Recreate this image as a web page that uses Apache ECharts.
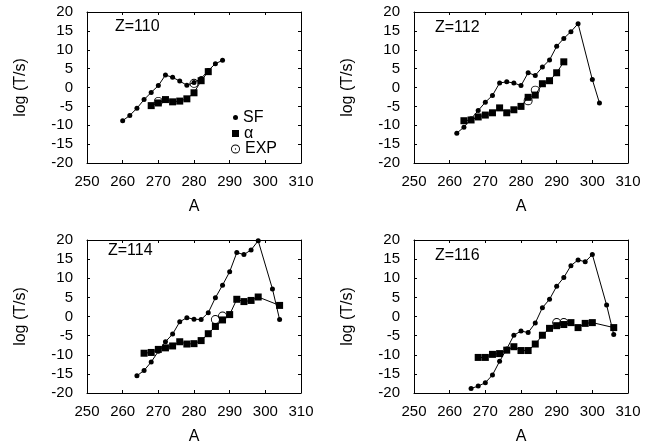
<!DOCTYPE html>
<html>
<head>
<meta charset="utf-8">
<script src="https://cdn.jsdelivr.net/npm/echarts@6/dist/echarts.min.js"></script>
<style>html,body{margin:0;padding:0;background:#fff}#c{width:662px;height:448px}</style>
</head>
<body>
<div id="c"></div>
<script>
// ---- data ----
const xTicks = [250, 260, 270, 280, 290, 300, 310];
const yTicks = [-20, -15, -10, -5, 0, 5, 10, 15, 20];
const panelZ = ['Z=110', 'Z=112', 'Z=114', 'Z=116'];

const sf110A = [260,262,264,266,268,270,272,274,276,278,280,282,284,286,288];
const sf110  = [-8.8,-7.4,-5.5,-3.2,-1.3,0.5,3.3,2.7,1.7,0.6,1.3,2.4,4.5,6.3,7.2];
const al110A = [268,270,272,274,276,278,280,282,284];
const al110  = [-4.8,-4.1,-3.2,-3.8,-3.6,-3.0,-1.4,1.8,4.2];
const ex110A = [270,280];
const ex110  = [-3.7,1.1];

const sf112A = [262,264,266,268,270,272,274,276,278,280,282,284,286,288,290,292,294,296,300,302];
const sf112  = [-12.1,-10.5,-8.3,-6.1,-3.9,-2.1,1.2,1.5,1.2,0.5,3.9,3.2,5.4,7.3,10.9,13.0,14.8,16.9,2.1,-4.1];
const al112A = [264,266,268,270,272,274,276,278,280,282,284,286,288,290,292];
const al112  = [-8.8,-8.6,-7.8,-7.3,-6.7,-5.4,-6.7,-5.9,-5.0,-2.6,-2.0,1.0,1.8,3.9,6.8];
const ex112A = [282,284];
const ex112  = [-3.5,-0.7];

const sf114A = [264,266,268,270,272,274,276,278,280,282,284,286,288,290,292,294,296,298,302,304];
const sf114  = [-15.5,-14.1,-11.9,-9.1,-6.6,-4.6,-1.4,-0.3,-0.7,-0.8,1.0,4.9,8.2,11.7,16.7,16.2,17.4,19.8,7.2,-0.8];
const al114A = [266,268,270,272,274,276,278,280,282,284,286,288,290,292,294,296,298,304];
const al114  = [-9.6,-9.4,-8.6,-8.2,-7.7,-6.6,-7.2,-7.1,-6.3,-4.5,-2.6,-0.9,0.5,4.5,3.9,4.2,5.1,2.9];
const ex114A = [286,288];
const ex114  = [-0.8,0.1];

const sf116A = [266,268,270,272,274,276,278,280,282,284,286,288,290,292,294,296,298,300,304,306];
const sf116  = [-18.8,-18.2,-17.3,-15.3,-11.7,-8.5,-4.9,-3.8,-4.2,-1.7,2.3,4.5,7.9,10.2,13.3,14.8,14.3,16.2,3.0,-4.7];
const al116A = [268,270,272,274,276,278,280,282,284,286,288,290,292,294,296,298,300,306];
const al116  = [-10.7,-10.7,-9.9,-9.7,-8.8,-7.9,-8.9,-8.9,-7.2,-4.9,-3.1,-2.4,-2.1,-1.6,-2.9,-1.8,-1.6,-2.9];
const ex116A = [290,292];
const ex116  = [-1.6,-1.6];

// ---- build ----
const FONT = '"Liberation Sans", Arial, sans-serif';
const EXP_SYMBOL = 'path://M0,10 A10,10 0 1,1 20,10 A10,10 0 1,1 0,10 Z M2,10 A8,8 0 1,0 18,10 A8,8 0 1,0 2,10 Z M8.6,10 A1.4,1.4 0 1,1 11.4,10 A1.4,1.4 0 1,1 8.6,10 Z';
const EXP_RING = 'path://M0,10 A10,10 0 1,1 20,10 A10,10 0 1,1 0,10 Z M2,10 A8,8 0 1,0 18,10 A8,8 0 1,0 2,10 Z';

const panels = [
  {sf:[sf110A,sf110], al:[al110A,al110], ex:[ex110A,ex110]},
  {sf:[sf112A,sf112], al:[al112A,al112], ex:[ex112A,ex112]},
  {sf:[sf114A,sf114], al:[al114A,al114], ex:[ex114A,ex114]},
  {sf:[sf116A,sf116], al:[al116A,al116], ex:[ex116A,ex116]}
];
const zip = (a, b) => a.map((v, i) => [v, b[i]]);

const gridPos = [
  {left: 87, top: 12, width: 214, height: 151},
  {left: 414, top: 12, width: 214, height: 151},
  {left: 87, top: 240, width: 214, height: 153},
  {left: 414, top: 240, width: 214, height: 153}
];
const titlePos = [[115, 19], [435, 20], [108, 243], [435, 248]];

const axisLine = {show: true, onZero: false, lineStyle: {color: '#000', width: 1}};
const axisTick = {show: true, inside: true, length: 3, lineStyle: {color: '#000', width: 1}};
const labelStyle = {color: '#000', fontSize: 15, fontFamily: FONT};

const grid = [], xAxis = [], yAxis = [], series = [], graphic = [];
gridPos.forEach((g, i) => {
  grid.push(Object.assign({containLabel: false}, g));
  const xBase = {type: 'value', min: xTicks[0], max: xTicks[xTicks.length - 1], interval: 10, gridIndex: i,
    axisLine, axisTick, splitLine: {show: false}};
  const yBase = {type: 'value', min: yTicks[0], max: yTicks[yTicks.length - 1], interval: 5, gridIndex: i,
    axisLine, axisTick, splitLine: {show: false}};
  xAxis.push(Object.assign({}, xBase, {position: 'bottom', name: 'A', nameLocation: 'middle', nameGap: 36,
    nameTextStyle: {color: '#000', fontSize: 16, fontFamily: FONT},
    axisLabel: Object.assign({margin: 11}, labelStyle)}));
  xAxis.push(Object.assign({}, xBase, {position: 'top', axisLabel: {show: false}}));
  yAxis.push(Object.assign({}, yBase, {position: 'left', name: 'log (T/s)', nameLocation: 'middle', nameGap: 58,
    nameTextStyle: {color: '#000', fontSize: 16, fontFamily: FONT},
    axisLabel: Object.assign({margin: 14}, labelStyle)}));
  yAxis.push(Object.assign({}, yBase, {position: 'right', axisLabel: {show: false}}));

  const p = panels[i];
  const xi = i * 2, yi = i * 2;
  series.push({name: 'EXP', type: 'line', xAxisIndex: xi, yAxisIndex: yi, data: zip(p.ex[0], p.ex[1]),
    symbol: EXP_RING, symbolSize: 9, lineStyle: {width: 0, opacity: 0}, itemStyle: {color: '#000'},
    showAllSymbol: true, z: 2, silent: true, animation: false});
  series.push({name: 'α', type: 'line', xAxisIndex: xi, yAxisIndex: yi, data: zip(p.al[0], p.al[1]),
    symbol: 'rect', symbolSize: 7, lineStyle: {color: '#000', width: 1}, itemStyle: {color: '#000'},
    showAllSymbol: true, z: 3, silent: true, animation: false});
  series.push({name: 'SF', type: 'line', xAxisIndex: xi, yAxisIndex: yi, data: zip(p.sf[0], p.sf[1]),
    symbol: 'circle', symbolSize: 5, lineStyle: {color: '#000', width: 1}, itemStyle: {color: '#000'},
    showAllSymbol: true, z: 4, silent: true, animation: false});

  graphic.push({type: 'text', left: titlePos[i][0], top: titlePos[i][1],
    style: {text: panelZ[i], font: '16px ' + FONT, fill: '#000'}});
});

const legText = {color: '#000', fontSize: 16, fontFamily: FONT, lineHeight: 16};
const legend = [
  {data: [{name: 'SF', icon: 'circle'}], left: 233, top: 109.5, itemWidth: 5, itemHeight: 5, itemGap: 0, padding: 0, textStyle: legText, selectedMode: false},
  {data: [{name: 'α', icon: 'rect'}], left: 232, top: 125.5, itemWidth: 7, itemHeight: 7, itemGap: 0, padding: 0, textStyle: legText, selectedMode: false},
  {data: [{name: 'EXP', icon: EXP_SYMBOL}], left: 231, top: 141, itemWidth: 9, itemHeight: 9, itemGap: 0, padding: 0, textStyle: legText, selectedMode: false}
];

const chart = echarts.init(document.getElementById('c'), null, {renderer: 'canvas'});
chart.setOption({animation: false, backgroundColor: '#fff', grid, xAxis, yAxis, series, legend, graphic});
</script>
</body>
</html>
